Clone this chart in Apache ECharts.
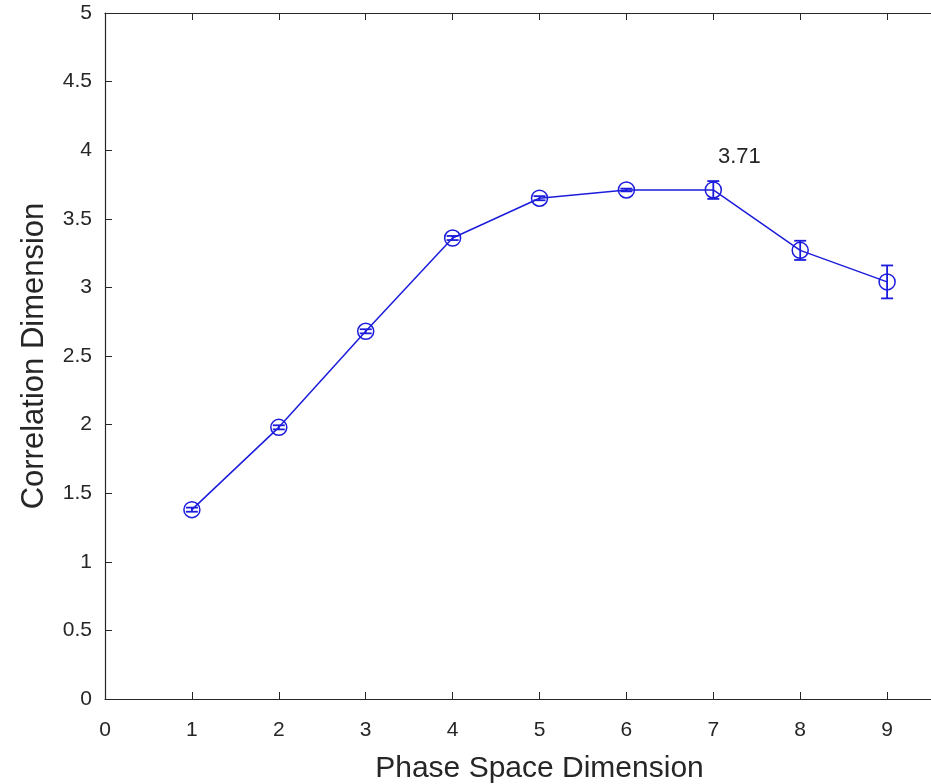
<!DOCTYPE html>
<html>
<head>
<meta charset="utf-8">
<script src="https://cdn.jsdelivr.net/npm/echarts@6/dist/echarts.min.js"></script>
<style>
  html, body { margin: 0; padding: 0; background: #fff; }
  #main { width: 931px; height: 784px; }
</style>
</head>
<body>
<div id="main"></div>
<script>
// 数据
var dims = [1, 2, 3, 4, 5, 6, 7, 8, 9];
var corrDim = [1.38, 1.98, 2.68, 3.36, 3.65, 3.71, 3.71, 3.27, 3.04];
var errs = [0.015, 0.015, 0.015, 0.015, 0.015, 0.01, 0.065, 0.07, 0.12];
var maxLabelIdx = 6;

var blue = '#1c1cdc';
var axisColor = '#262626';
var font = 'Liberation Sans, Arial, sans-serif';

var lineData = dims.map(function (d, i) {
  var item = { value: [d, corrDim[i]] };
  if (i == maxLabelIdx) {
    item.label = {
      show: true,
      formatter: corrDim[i].toFixed(2),
      position: 'top',
      offset: [26, -8],
      color: '#262626',
      fontSize: 22,
      fontFamily: font
    };
  }
  return item;
});
var errData = dims.map(function (d, i) {
  return [d, corrDim[i] - errs[i], corrDim[i] + errs[i]];
});

var myChart = echarts.init(document.getElementById('main'));
var option = {
  backgroundColor: '#fff',
  animation: false,
  // 右边界在图片外面 (x=10 约在 974px)
  grid: { left: 105, width: 869, top: 13, bottom: 85, outerBoundsMode: 'none' },
  xAxis: [{
    type: 'value',
    min: 0, max: 10, interval: 1,
    name: 'Phase Space Dimension',
    nameLocation: 'middle',
    nameGap: 55,
    nameTextStyle: { color: axisColor, fontSize: 30, fontFamily: font },
    axisLine: { lineStyle: { color: axisColor, width: 1.2 } },
    axisTick: { inside: true, length: 7, lineStyle: { color: axisColor } },
    axisLabel: { color: axisColor, fontSize: 21, fontFamily: font, margin: 21 },
    splitLine: { show: false }
  }, {
    type: 'value',
    position: 'top',
    min: 0, max: 10, interval: 1,
    axisLine: { lineStyle: { color: axisColor, width: 1.2 } },
    axisTick: { inside: true, length: 7, lineStyle: { color: axisColor } },
    axisLabel: { show: false },
    splitLine: { show: false }
  }],
  yAxis: [{
    type: 'value',
    min: 0, max: 5, interval: 0.5,
    name: 'Correlation Dimension',
    nameLocation: 'middle',
    nameGap: 55,
    nameTextStyle: { color: axisColor, fontSize: 31, fontFamily: font },
    axisLine: { show: true, lineStyle: { color: axisColor, width: 1.2 } },
    axisTick: { show: true, inside: true, length: 7, lineStyle: { color: axisColor } },
    axisLabel: { color: axisColor, fontSize: 21, fontFamily: font, margin: 13 },
    splitLine: { show: false }
  }],
  series: [{
    type: 'custom',
    name: 'err',
    renderItem: function (params, api) {
      var x = api.value(0);
      var lo = api.coord([x, api.value(1)]);
      var hi = api.coord([x, api.value(2)]);
      var w = 6;
      var st = { stroke: blue, lineWidth: 1.8 };
      return {
        type: 'group',
        children: [
          { type: 'line', shape: { x1: lo[0], y1: lo[1], x2: hi[0], y2: hi[1] }, style: st },
          { type: 'line', shape: { x1: lo[0] - w, y1: lo[1], x2: lo[0] + w, y2: lo[1] }, style: st },
          { type: 'line', shape: { x1: hi[0] - w, y1: hi[1], x2: hi[0] + w, y2: hi[1] }, style: st }
        ]
      };
    },
    encode: { x: 0, y: [1, 2] },
    data: errData,
    z: 3
  }, {
    type: 'line',
    name: 'D2',
    data: lineData,
    symbol: 'circle',
    symbolSize: 16,
    lineStyle: { color: blue, width: 1.5 },
    itemStyle: { color: 'rgba(0,0,0,0)', borderColor: blue, borderWidth: 1.5 },
    z: 4
  }]
};
myChart.setOption(option);
</script>
</body>
</html>
